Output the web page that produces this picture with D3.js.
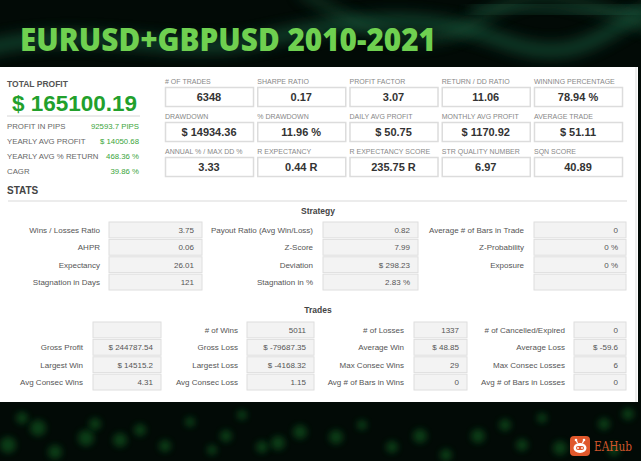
<!DOCTYPE html>
<html>
<head>
<meta charset="utf-8">
<script src="https://cdn.jsdelivr.net/npm/d3@7"></script>
<style>
  body { margin: 0; background: #020a06; }
  svg { display: block; }
</style>
</head>
<body>
<div id="chart"></div>
<script>
const titleText = "EURUSD+GBPUSD 2010-2021"
const totalLabel = "TOTAL PROFIT"
const totalProfit = "$ 165100.19"

const summaryLabels = ["PROFIT IN PIPS", "YEARLY AVG PROFIT", "YEARLY AVG % RETURN", "CAGR"]
const summaryValues = ["92593.7 PIPS", "$ 14050.68", "468.36 %", "39.86 %"]

const cardLabels = ["# OF TRADES", "SHARPE RATIO", "PROFIT FACTOR", "RETURN / DD RATIO", "WINNING PERCENTAGE",
                    "DRAWDOWN", "% DRAWDOWN", "DAILY AVG PROFIT", "MONTHLY AVG PROFIT", "AVERAGE TRADE",
                    "ANNUAL % / MAX DD %", "R EXPECTANCY", "R EXPECTANCY SCORE", "STR QUALITY NUMBER", "SQN SCORE"]
const cardValues = ["6348", "0.17", "3.07", "11.06", "78.94 %",
                    "$ 14934.36", "11.96 %", "$ 50.75", "$ 1170.92", "$ 51.11",
                    "3.33", "0.44 R", "235.75 R", "6.97", "40.89"]

const strategyLabels = [
  ["Wins / Losses Ratio", "Payout Ratio (Avg Win/Loss)", "Average # of Bars in Trade"],
  ["AHPR", "Z-Score", "Z-Probability"],
  ["Expectancy", "Deviation", "Exposure"],
  ["Stagnation in Days", "Stagnation in %", ""]]
const strategyValues = [
  ["3.75", "0.82", "0"],
  ["0.06", "7.99", "0 %"],
  ["26.01", "$ 298.23", "0 %"],
  ["121", "2.83 %", ""]]

const tradeLabels = [
  ["", "# of Wins", "# of Losses", "# of Cancelled/Expired"],
  ["Gross Profit", "Gross Loss", "Average Win", "Average Loss"],
  ["Largest Win", "Largest Loss", "Max Consec Wins", "Max Consec Losses"],
  ["Avg Consec Wins", "Avg Consec Loss", "Avg # of Bars in Wins", "Avg # of Bars in Losses"]]
const tradeValues = [
  ["", "5011", "1337", "0"],
  ["$ 244787.54", "$ -79687.35", "$ 48.85", "$ -59.6"],
  ["$ 14515.2", "$ -4168.32", "29", "6"],
  ["4.31", "1.15", "0", "0"]]

// background decoration (bokeh spots at the bottom)
const bokeh = [[8,445,8],[22,418,6],[38,428,8],[55,452,7],[86,438,8],[95,424,6],[120,440,7],[140,430,6],
               [165,446,6],[190,422,5],[212,450,5],[226,436,6],[242,415,5],[262,447,6],[278,443,7],[300,432,7],
               [336,437,7],[362,425,5],[392,447,6],[420,436,7],[446,455,6],[478,436,7],[505,425,6],[522,445,6],
               [542,418,5],[560,448,7],[604,424,6],[614,450,6],[628,414,6]]

const W = 641, H = 461
const font = "'Liberation Sans', Arial, sans-serif"

const svg = d3.select("#chart").append("svg")
      .attr("width", W).attr("height", H)

const defs = svg.append("defs")
defs.append("filter").attr("id", "blur").attr("x", "-50%").attr("y", "-50%")
  .attr("width", "200%").attr("height", "200%")
  .append("feGaussianBlur").attr("stdDeviation", 7)
defs.append("filter").attr("id", "soft").attr("x", "-50%").attr("y", "-50%")
  .attr("width", "200%").attr("height", "200%")
  .append("feGaussianBlur").attr("stdDeviation", 3)

// dark background
svg.append("rect").attr("width", W).attr("height", H).attr("fill", "#020a06")

const header = svg.append("g")
header.append("path").attr("d", "M-20,50 C90,20 170,60 260,40 S420,10 500,40 S600,30 660,5")
  .attr("fill", "none").attr("stroke", "#1d6a48").attr("stroke-width", 14)
  .attr("opacity", 0.55).attr("filter", "url(#blur)")
header.append("path").attr("d", "M300,-10 C360,30 420,60 480,20 S560,-5 660,30")
  .attr("fill", "none").attr("stroke", "#1b5c3e").attr("stroke-width", 10)
  .attr("opacity", 0.5).attr("filter", "url(#blur)")
header.append("path").attr("d", "M470,10 C520,0 570,20 641,8")
  .attr("fill", "none").attr("stroke", "#2b7a5a").attr("stroke-width", 8)
  .attr("opacity", 0.45).attr("filter", "url(#blur)")

svg.append("g").selectAll("circle").data(bokeh).join("circle")
  .attr("cx", d => d[0]).attr("cy", d => d[1]).attr("r", d => d[2])
  .attr("fill", "#137a2c").attr("opacity", 0.45).attr("filter", "url(#soft)")

// title
svg.append("text").attr("x", 20).attr("y", 51)
  .attr("font-family", "'Open Sans', sans-serif").attr("font-weight", 800)
  .attr("font-size", 31).attr("fill", "#6fd050")
  .attr("textLength", 416).attr("lengthAdjust", "spacingAndGlyphs")
  .text(titleText)

// white panel
svg.append("rect").attr("x", 0).attr("y", 67).attr("width", 638).attr("height", 335).attr("fill", "#fff")
svg.append("line").attr("x1", 636).attr("x2", 636).attr("y1", 67).attr("y2", 402)
  .attr("stroke", "#e8e8e8").attr("stroke-width", 1.5)

// left summary block
svg.append("text").attr("x", 7).attr("y", 87).attr("font-family", font).attr("font-weight", "bold")
  .attr("font-size", 8.5).attr("fill", "#555").text(totalLabel)
svg.append("text").attr("x", 12).attr("y", 111).attr("font-family", font).attr("font-weight", "bold")
  .attr("font-size", 22.5).attr("fill", "#22a02c").text(totalProfit)
svg.append("line").attr("x1", 7).attr("x2", 140).attr("y1", 116).attr("y2", 116)
  .attr("stroke", "#d6d6d6").attr("stroke-width", 1)

const sumY = d3.scalePoint().domain(d3.range(summaryLabels.length)).range([129, 174])
const sum = svg.append("g").selectAll("g").data(summaryLabels).join("g")
sum.append("text").attr("x", 7).attr("y", (d, i) => sumY(i))
  .attr("font-family", font).attr("font-size", 7.8).attr("fill", "#666").text(d => d)
sum.append("text").attr("x", 139).attr("y", (d, i) => sumY(i)).attr("text-anchor", "end")
  .attr("font-family", font).attr("font-size", 7.8).attr("fill", "#3aa53a").text((d, i) => summaryValues[i])

svg.append("text").attr("x", 7).attr("y", 194).attr("font-family", font).attr("font-weight", "bold")
  .attr("font-size", 10).attr("fill", "#444").text("STATS")

// metric cards
const cardX = d3.scaleBand().domain(d3.range(5)).range([165, 622]).paddingInner(0.046)
const cardY = d3.scalePoint().domain(d3.range(3)).range([87, 157])
const cards = svg.append("g").selectAll("g").data(cardLabels).join("g")
  .attr("transform", (d, i) => `translate(${cardX(i % 5)},${cardY(Math.floor(i / 5))})`)
cards.append("text").attr("x", 0).attr("y", -3)
  .attr("font-family", font).attr("font-size", 7).attr("fill", "#888").text(d => d)
cards.append("rect").attr("x", 0.5).attr("y", 0.5).attr("width", cardX.bandwidth()).attr("height", 19)
  .attr("fill", "#fff").attr("stroke", "#dcdcdc").attr("stroke-width", 1.5)
cards.append("text").attr("x", cardX.bandwidth() / 2).attr("y", 14).attr("text-anchor", "middle")
  .attr("font-family", font).attr("font-weight", "bold").attr("font-size", 11).attr("fill", "#333")
  .text((d, i) => cardValues[i])

// section rule + headings
svg.append("line").attr("x1", 8).attr("x2", 627).attr("y1", 201).attr("y2", 201)
  .attr("stroke", "#ececec").attr("stroke-width", 2)

function heading(text, y) {
  svg.append("text").attr("x", 318).attr("y", y).attr("text-anchor", "middle")
    .attr("font-family", font).attr("font-weight", "bold").attr("font-size", 8.5).attr("fill", "#444")
    .text(text)
}

function drawTable(labels, values, cols, rowY) {
  const g = svg.append("g")
  labels.forEach((row, r) => {
    row.forEach((lab, c) => {
      const col = cols[c], y = rowY(r), h = rowY.bandwidth()
      g.append("text").attr("x", col.labelRight).attr("y", y + h / 2 + 3).attr("text-anchor", "end")
        .attr("font-family", font).attr("font-size", 8).attr("fill", "#555").text(lab)
      g.append("rect").attr("x", col.boxX).attr("y", y).attr("width", col.boxW).attr("height", h)
        .attr("fill", "#f3f3f3").attr("stroke", "#dedede").attr("stroke-width", 1)
      g.append("text").attr("x", col.boxX + col.boxW - 8).attr("y", y + h / 2 + 3).attr("text-anchor", "end")
        .attr("font-family", font).attr("font-size", 8).attr("fill", "#555").text(values[r][c])
    })
  })
}

heading("Strategy", 214)
const stratCols = [
  {labelRight: 100, boxX: 109, boxW: 93},
  {labelRight: 313, boxX: 323, boxW: 95},
  {labelRight: 524, boxX: 534, boxW: 92}]
const stratY = d3.scaleBand().domain(d3.range(4)).range([222, 290]).paddingInner(0.09)
drawTable(strategyLabels, strategyValues, stratCols, stratY)

heading("Trades", 313)
const tradeCols = [
  {labelRight: 83, boxX: 93, boxW: 68},
  {labelRight: 238, boxX: 247, boxW: 67},
  {labelRight: 404, boxX: 414, boxW: 53},
  {labelRight: 565, boxX: 574, boxW: 52}]
const tradeY = d3.scaleBand().domain(d3.range(4)).range([322, 390]).paddingInner(0.09)
drawTable(tradeLabels, tradeValues, tradeCols, tradeY)

// EAHub logo
const logo = svg.append("g").attr("transform", "translate(570,436)")
logo.append("rect").attr("width", 20).attr("height", 20).attr("rx", 4).attr("fill", "#e0582c")
logo.append("line").attr("x1", 6).attr("y1", 4).attr("x2", 7.5).attr("y2", 7).attr("stroke", "#fff").attr("stroke-width", 1.2)
logo.append("line").attr("x1", 14).attr("y1", 4).attr("x2", 12.5).attr("y2", 7).attr("stroke", "#fff").attr("stroke-width", 1.2)
logo.append("circle").attr("cx", 6).attr("cy", 4).attr("r", 1.3).attr("fill", "#fff")
logo.append("circle").attr("cx", 14).attr("cy", 4).attr("r", 1.3).attr("fill", "#fff")
logo.append("ellipse").attr("cx", 10).attr("cy", 12).attr("rx", 6.5).attr("ry", 5).attr("fill", "#fff")
logo.append("rect").attr("x", 6).attr("y", 10).attr("width", 8).attr("height", 4).attr("rx", 2).attr("fill", "#e0582c")
logo.append("circle").attr("cx", 8).attr("cy", 12).attr("r", 0.9).attr("fill", "#fff")
logo.append("circle").attr("cx", 12).attr("cy", 12).attr("r", 0.9).attr("fill", "#fff")
svg.append("text").attr("x", 594).attr("y", 451)
  .attr("font-family", "'DejaVu Serif', 'Liberation Serif', serif").attr("font-size", 12.5)
  .attr("fill", "#d0552b").attr("textLength", 38).attr("lengthAdjust", "spacingAndGlyphs")
  .text("EAHub")
</script>
</body>
</html>
